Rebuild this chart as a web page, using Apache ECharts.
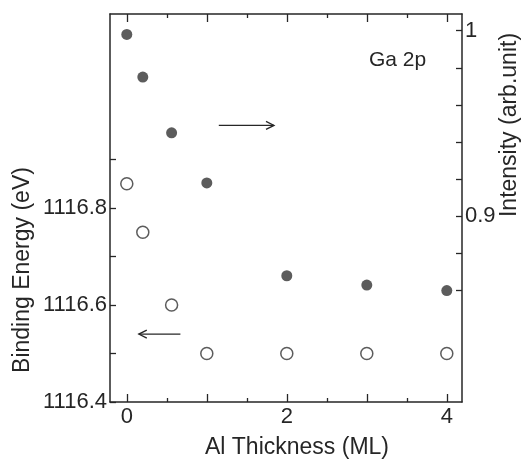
<!DOCTYPE html>
<html>
<head>
<meta charset="utf-8">
<script src="https://cdn.jsdelivr.net/npm/echarts@6/dist/echarts.min.js"></script>
<style>html,body{margin:0;padding:0;background:#fff}#c{width:522px;height:460px}</style>
</head>
<body>
<div id="c"></div>
<script>
// ---- data ----
const thickness = [0, 0.2, 0.56, 1, 2, 3, 4];
const intensity = [0.998, 0.975, 0.945, 0.918, 0.868, 0.863, 0.860];
const bindingEnergy = [1116.85, 1116.75, 1116.6, 1116.5, 1116.5, 1116.5, 1116.5];
const xMajorTicks = [0, 1, 2, 3, 4];
const xMinorTicks = [0.5, 1.5, 2.5, 3.5];
const xLabels = [0, 2, 4];
const leftTicks = [1116.4, 1116.5, 1116.6, 1116.7, 1116.8, 1116.9];
const leftLabels = [1116.4, 1116.6, 1116.8];
const rightTicks = [0.86, 0.88, 0.9, 0.92, 0.94, 0.96, 0.98, 1.0];
const rightLabels = [0.9, 1.0];
const arrowRight = [[1.15, 0.949, 1.84]];   // x from, y (intensity), x to
const arrowLeft = [[0.67, 1116.54, 0.15]];  // x from, y (energy), x to

const FONT = '"Liberation Sans", Arial, Helvetica, sans-serif';
const INK = '#262626';
const chart = echarts.init(document.getElementById('c'), null, {renderer: 'canvas'});

function xAxisDef(pos, ticks, len, showLine, labels) {
  return {
    type: 'value', min: -0.21, max: 4.19, position: pos, gridIndex: 0,
    axisLine: {show: showLine, onZero: false, lineStyle: {color: INK, width: 1.5}},
    axisTick: {show: true, inside: true, length: len, customValues: ticks, lineStyle: {color: INK, width: 1.3}},
    axisLabel: labels ? {show: true, customValues: labels, fontSize: 22, fontFamily: FONT, color: INK, margin: 4} : {show: false},
    splitLine: {show: false}
  };
}

function arrowRender(params, api) {
  const a = api.coord([api.value(0), api.value(1)]);
  const b = api.coord([api.value(2), api.value(1)]);
  const d = Math.sign(b[0] - a[0]);
  return {
    type: 'group',
    children: [
      {type: 'line', shape: {x1: a[0], y1: a[1], x2: b[0], y2: b[1]}, style: {stroke: INK, lineWidth: 1.3}},
      {type: 'polyline', shape: {points: [[b[0] - d * 8, b[1] - 4], [b[0], b[1]], [b[0] - d * 8, b[1] + 4]]},
       style: {stroke: INK, fill: null, lineWidth: 1.3}}
    ]
  };
}

const option = {
  animation: false,
  backgroundColor: '#fff',
  grid: {left: 110, right: 60, top: 14, bottom: 58, containLabel: false},
  xAxis: [
    xAxisDef('bottom', xMajorTicks, 8, true, xLabels),
    xAxisDef('bottom', xMinorTicks, 4, false, null),
    xAxisDef('top', xMajorTicks, 8, true, null),
    xAxisDef('top', xMinorTicks, 4, false, null)
  ],
  yAxis: [
    {
      type: 'value', min: 1116.4, max: 1117.2, position: 'left',
      axisLine: {show: true, onZero: false, lineStyle: {color: INK, width: 1.5}},
      axisTick: {show: true, inside: true, length: 6, customValues: leftTicks, lineStyle: {color: INK, width: 1.3}},
      axisLabel: {show: true, customValues: leftLabels, fontSize: 22, fontFamily: FONT, color: INK, margin: 3,
                  formatter: v => Number(v).toFixed(1)},
      splitLine: {show: false}
    },
    {
      type: 'value', min: 0.8, max: 1.009, position: 'right',
      axisLine: {show: true, onZero: false, lineStyle: {color: INK, width: 1.5}},
      axisTick: {show: true, inside: true, length: 6, customValues: rightTicks, lineStyle: {color: INK, width: 1.3}},
      axisLabel: {show: true, customValues: rightLabels, fontSize: 22, fontFamily: FONT, color: INK, margin: 3,
                  formatter: v => (Math.abs(v - 1) < 1e-9 ? '1' : String(Number(v).toFixed(1)))},
      splitLine: {show: false}
    }
  ],
  series: [
    {
      type: 'scatter', xAxisIndex: 0, yAxisIndex: 1,
      data: thickness.map((x, i) => [x, intensity[i]]),
      symbol: 'circle', symbolSize: 11,
      itemStyle: {color: '#333'}
    },
    {
      type: 'scatter', xAxisIndex: 0, yAxisIndex: 0,
      data: thickness.map((x, i) => [x, bindingEnergy[i]]),
      symbol: 'circle', symbolSize: 12,
      itemStyle: {color: '#fff', borderColor: '#333', borderWidth: 1.5}
    },
    {
      type: 'custom', xAxisIndex: 0, yAxisIndex: 1, renderItem: arrowRender,
      data: arrowRight, encode: {x: [0, 2], y: 1}, silent: true
    },
    {
      type: 'custom', xAxisIndex: 0, yAxisIndex: 0, renderItem: arrowRender,
      data: arrowLeft, encode: {x: [0, 2], y: 1}, silent: true
    }
  ],
  graphic: [
    {type: 'text', x: 23, y: 270, rotation: Math.PI / 2,
     style: {text: 'Binding Energy (eV)', font: '23px ' + FONT, fill: INK, align: 'center', verticalAlign: 'middle'}},
    {type: 'text', x: 510, y: 125, rotation: Math.PI / 2,
     style: {text: 'Intensity (arb.unit)', font: '23px ' + FONT, fill: INK, align: 'center', verticalAlign: 'middle'}},
    {type: 'text', x: 297, y: 448,
     style: {text: 'Al Thickness (ML)', font: '23px ' + FONT, fill: INK, align: 'center', verticalAlign: 'middle'}},
    {type: 'text', x: 369, y: 60,
     style: {text: 'Ga 2p', font: '21px ' + FONT, fill: INK, align: 'left', verticalAlign: 'middle'}}
  ]
};
chart.setOption(option);
</script>
</body>
</html>
